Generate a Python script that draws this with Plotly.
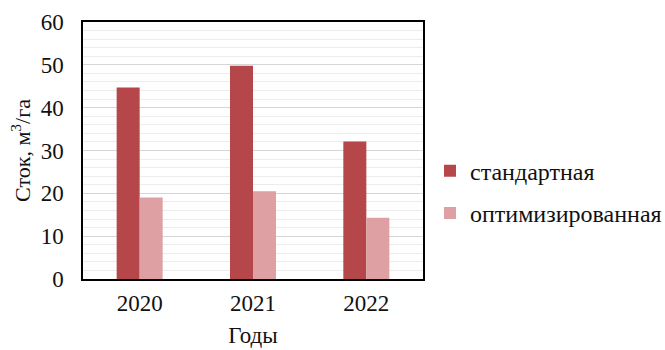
import plotly.graph_objects as go

years = ["2020", "2021", "2022"]
standard = [44.7, 49.8, 32.1]
optimized = [19.0, 20.5, 14.3]
series_names = ["стандартная", "оптимизированная"]
y_ticks = [0, 10, 20, 30, 40, 50, 60]

FONT = "Liberation Serif, Times New Roman, serif"
TEXT = "#111111"

fig = go.Figure()
fig.add_trace(go.Bar(
    x=years, y=standard, name=series_names[0], legendgroup="a",
    marker=dict(color="#b5474a", line=dict(width=0)),
))
fig.add_trace(go.Bar(
    x=years, y=optimized, name=series_names[1], legendgroup="b",
    marker=dict(color="#dea0a2", line=dict(width=0)),
))

fig.update_layout(
    width=665, height=350,
    margin=dict(l=83, r=242, t=22, b=71, autoexpand=False),
    paper_bgcolor="white", plot_bgcolor="white",
    barmode="group", bargap=0.594, bargroupgap=0,
    font=dict(family=FONT, size=23, color=TEXT),
    showlegend=True,
    legend=dict(
        xref="container", yref="container",
        x=0.6466, y=0.451, xanchor="left", yanchor="middle",
        font=dict(family=FONT, size=24, color=TEXT),
        traceorder="grouped", tracegroupgap=8,
        itemwidth=30, bgcolor="rgba(0,0,0,0)",
    ),
    xaxis=dict(
        automargin=False,
        showline=True, linecolor="black", linewidth=1.5, mirror=True,
        ticks="", tickfont=dict(size=23, color=TEXT), ticklabelstandoff=3,
        title=dict(text="Годы", font=dict(size=23, color=TEXT), standoff=12),
    ),
    yaxis=dict(
        automargin=False,
        range=[0, 60], tickvals=y_ticks, ticks="",
        showline=True, linecolor="black", linewidth=1.5, mirror=True,
        showgrid=True, gridcolor="#d6d6d6", gridwidth=1,
        minor=dict(dtick=2, showgrid=True, gridcolor="#ececec", gridwidth=1),
        tickfont=dict(size=23, color=TEXT), ticklabelstandoff=13,
        title=dict(text="Сток, м<sup>3</sup>/га", font=dict(size=22, color=TEXT), standoff=4),
        zeroline=False,
    ),
)

fig.write_html("out.html")
